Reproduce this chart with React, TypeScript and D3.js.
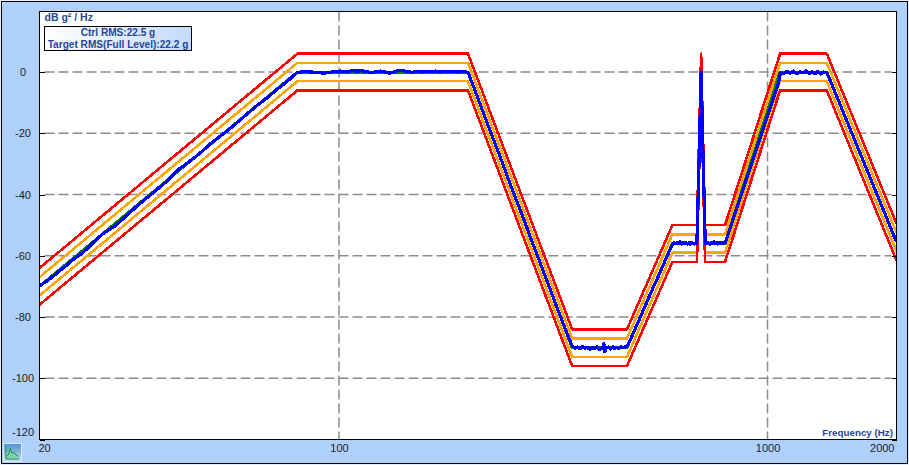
import * as d3 from "d3";
import { useEffect, useRef } from "react";

const yTicks = [0, -20, -40, -60, -80, -100, -120];
const xLabels = [20, 100, 1000, 2000];
const xGrid = [100, 1000];

// breakpoints of the test profile
const profileHz = [20, 80, 200, 350, 470, 600, 684.5, 700, 715, 796, 1070, 1375, 2000];
const targetDb = [-70, 0, 0, -90, -90, -56, -56, 0, -56, -56, 0, 0, -55.5];
const abortHighDb = [-64, 6, 6, -84, -84, -50, -50, 6, -50, -50, 6, 6, -49.5];
const alarmHighDb = [-67, 3, 3, -87, -87, -53, -53, 3, -53, -53, 3, 3, -52.5];
const alarmLowDb = [-73, -3, -3, -93, -93, -59, -59, -3, -59, -59, -3, -3, -58.5];
const abortLowDb = [-76, -6, -6, -96, -96, -62, -62, -6, -62, -62, -6, -6, -61.5];

const controlHz = [
  20, 21, 22, 23, 24, 25, 26, 27, 28, 29, 30, 32, 34, 36, 38, 40, 42, 44, 46, 48, 50, 53, 56, 60, 64, 68, 72, 75, 78,
  80, 83, 86, 89, 92, 95, 98, 101, 104, 107, 110, 113, 116, 119, 122, 125, 128, 131, 134, 137, 140, 144, 148, 152, 156, 160, 164, 168, 172, 176, 180, 185, 190, 195, 200,
  210, 220, 230, 240, 250, 260, 270, 280, 290, 300, 310, 320, 330, 340, 350,
  355, 360, 365, 370, 375, 380, 385, 390, 395, 400, 405, 410, 413, 415, 417, 420, 425, 430, 435, 440, 445, 450, 455, 460, 465, 470,
  480, 500, 520, 540, 560, 580, 600,
  605, 610, 615, 620, 625, 630, 635, 640, 645, 650, 655, 660, 665, 670, 675, 680, 684, 686, 692, 700, 708, 714, 716,
  720, 725, 730, 735, 740, 745, 750, 755, 760, 765, 770, 775, 780, 785, 790, 796,
  800, 820, 850, 880, 910, 940, 970, 1000, 1030, 1060, 1072,
  1090, 1110, 1130, 1150, 1170, 1190, 1210, 1230, 1250, 1270, 1290, 1310, 1330, 1350, 1375,
  1400, 1450, 1500, 1550, 1600, 1650, 1700, 1750, 1800, 1850, 1900, 1950, 2000,
];
const controlDb = [
  -69.8, -67.9, -65.6, -63.4, -61.2, -59.4, -57.4, -55, -53, -51.6, -50.3, -46.8, -43.4, -40.6, -37.9, -35.2, -32, -30, -28, -25.8, -23.5, -20.8, -18.2, -14.6, -11.2, -8.4, -5.4, -3.6, -1.4,
  -0.1, 0.1, 0, -0.1, -0.4, -0.1, 0.2, 0.3, 0.1, 0.4, 0.3, 0.4, 0.1, -0.2, 0.1, 0.3, 0, -0.4, 0, 0.4, 0.5, 0.2, -0.1, 0.2, 0, 0.2, 0.1, 0.3, 0, 0.1, 0.2, 0.1, 0, 0.2, -0.1,
  -7.8, -15.4, -22.5, -29.2, -36, -42.2, -48.1, -54.2, -59.7, -65.2, -70.4, -75.6, -80.4, -85.2, -89.4,
  -90.2, -89.8, -90.4, -89.6, -90.2, -89.9, -90.6, -90, -90.4, -89.8, -90.7, -90.3, -89.9, -88.7, -91.4, -90.2, -89.8, -90.5, -89.7, -90.3, -89.9, -90.4, -89.7, -90.1, -89.8, -89.6,
  -87, -81.4, -75.9, -70.6, -65.8, -60.8, -56.3,
  -55.8, -56.1, -55.6, -56, -55.4, -56.2, -55.7, -56.1, -55.6, -56.2, -55.8, -56.3, -55.7, -56, -56.2, -55.8, -56, -50, -30, 0, -30, -50, -56,
  -56.1, -55.6, -56, -56.3, -55.7, -56, -55.5, -56.1, -55.8, -56.2, -55.6, -56, -55.7, -56.1, -55.6, -55.8,
  -55, -50.6, -44, -37.7, -31.5, -25.6, -19.9, -14.3, -8.9, -3.8, -0.3,
  -0.5, 0.2, -0.4, 0.3, -0.6, 0.1, -0.3, 0.4, -0.5, 0, -0.6, 0.2, -0.7, 0, -0.3,
  -2.7, -7.9, -12.9, -17.8, -22.4, -27, -31.4, -35.7, -39.9, -43.9, -47.9, -51.8, -55.5,
];

export default function App() {
  const svgRef = useRef<SVGSVGElement>(null);
  const width = 909;
  const height = 465;
  const plot = { left: 39.5, right: 896.5, top: 11.5, bottom: 439.5 };

  useEffect(() => {
    const svg = d3.select(svgRef.current);
    svg.selectAll("*").remove();

    const x = d3.scaleLog().domain([20, 2000]).range([plot.left, plot.right]);
    const y = d3.scaleLinear().domain([-120, 20]).range([plot.bottom, 10.75]);

    const defs = svg.append("defs");
    defs.append("clipPath").attr("id", "plot-clip").append("rect")
      .attr("x", plot.left).attr("y", plot.top)
      .attr("width", plot.right - plot.left).attr("height", plot.bottom - plot.top);
    const grad = defs.append("linearGradient").attr("id", "legend-bg");
    grad.append("stop").attr("offset", "0%").attr("stop-color", "#ffffff");
    grad.append("stop").attr("offset", "100%").attr("stop-color", "#c3dafa");
    const iconGrad = defs.append("linearGradient").attr("id", "icon-bg").attr("x2", 0).attr("y2", 1);
    iconGrad.append("stop").attr("offset", "0%").attr("stop-color", "#4f93d0");
    iconGrad.append("stop").attr("offset", "100%").attr("stop-color", "#bfdcf2");

    // window frame
    svg.append("rect").attr("width", width).attr("height", height).attr("fill", "#e6f0fd");
    svg.append("rect").attr("x", 1.5).attr("y", 1.5).attr("width", 906).attr("height", 462)
      .attr("fill", "#aed0fb").attr("stroke", "#000");
    svg.append("rect").attr("x", plot.left).attr("y", plot.top)
      .attr("width", plot.right - plot.left).attr("height", plot.bottom - plot.top)
      .attr("fill", "#fff");

    // grid
    const grid = svg.append("g").attr("stroke", "#8c8c8c").attr("stroke-width", 1.5)
      .attr("stroke-dasharray", "10 4");
    grid.selectAll("line.h").data(yTicks.slice(0, -1)).enter().append("line")
      .attr("class", "h")
      .attr("x1", plot.left + 5).attr("x2", plot.right - 5)
      .attr("y1", (d) => y(d)).attr("y2", (d) => y(d));
    grid.selectAll("line.v").data(xGrid).enter().append("line")
      .attr("class", "v")
      .attr("x1", (d) => x(d)).attr("x2", (d) => x(d))
      .attr("y1", plot.top).attr("y2", plot.bottom);

    // curves
    const pairLine = d3.line<[number, number]>().x((d) => x(d[0])).y((d) => y(d[1]));
    const series: [number[], number[], string, number][] = [
      [profileHz, alarmHighDb, "#ffa500", 2.6],
      [profileHz, alarmLowDb, "#ffa500", 2.6],
      [profileHz, targetDb, "#008000", 3],
      [profileHz, abortHighDb, "#ff0000", 2.6],
      [profileHz, abortLowDb, "#ff0000", 2.6],
      [controlHz, controlDb, "#0000ff", 3.2],
    ];
    const curves = svg.append("g").attr("clip-path", "url(#plot-clip)");
    series.forEach(([hz, db, color, w]) => {
      curves.append("path")
        .attr("d", pairLine(d3.zip(hz, db) as [number, number][]))
        .attr("fill", "none").attr("stroke", color).attr("stroke-width", w)
        .attr("stroke-linejoin", "round")
        .attr("shape-rendering", "crispEdges");
    });

    svg.append("rect").attr("x", plot.left).attr("y", plot.top)
      .attr("width", plot.right - plot.left).attr("height", plot.bottom - plot.top)
      .attr("fill", "none").attr("stroke", "#000").attr("shape-rendering", "crispEdges");

    // axes
    const fontFamily = "Liberation Sans, Arial, sans-serif";
    const gy = svg.append("g").attr("transform", `translate(${plot.left},0)`)
      .call(d3.axisLeft(y).tickValues(yTicks).tickSize(-5).tickPadding(0).tickFormat((d) => String(d)));
    gy.select(".domain").remove();
    gy.selectAll("line").attr("stroke", "#000").attr("shape-rendering", "crispEdges");
    gy.selectAll<SVGTextElement, number>("text")
      .attr("x", -16.5).attr("text-anchor", "middle")
      .attr("y", (d) => (d === -120 ? -8 : 0))
      .attr("font-family", fontFamily).attr("font-size", 11).attr("fill", "#222");

    const gr = svg.append("g").attr("transform", `translate(${plot.right},0)`)
      .call(d3.axisRight(y).tickValues(yTicks).tickSize(-5).tickFormat(() => ""));
    gr.select(".domain").remove();
    gr.selectAll("line").attr("stroke", "#000").attr("shape-rendering", "crispEdges");

    const gx = svg.append("g").attr("transform", `translate(0,${plot.bottom})`)
      .call(d3.axisBottom(x).tickValues(xLabels).tickSize(0).tickPadding(5).tickFormat((d) => String(d)));
    gx.select(".domain").remove();
    gx.selectAll<SVGTextElement, number>("text")
      .attr("font-family", fontFamily).attr("font-size", 11).attr("fill", "#222")
      .attr("text-anchor", (d) => (d === 2000 ? "end" : d === 20 ? "start" : "middle"))
      .attr("dx", (d) => (d === 2000 ? -2.5 : d === 20 ? -1.5 : 0));

    // titles
    const titleColor = "#24479a";
    svg.append("text").attr("x", 44.5).attr("y", 20.5).attr("fill", titleColor)
      .attr("font-family", fontFamily).attr("font-size", 10.5).attr("font-weight", "bold")
      .text("dB g² / Hz");
    svg.append("text").attr("x", 893).attr("y", 436).attr("text-anchor", "end").attr("fill", titleColor)
      .attr("font-family", fontFamily).attr("font-size", 9.8).attr("font-weight", "bold")
      .text("Frequency (Hz)");

    // RMS box
    svg.append("rect").attr("x", 44.5).attr("y", 26.5).attr("width", 147).attr("height", 24)
      .attr("fill", "url(#legend-bg)").attr("stroke", "#000").attr("shape-rendering", "crispEdges");
    ["Ctrl RMS:22.5 g", "Target RMS(Full Level):22.2 g"].forEach((t, i) => {
      svg.append("text").attr("x", 118).attr("y", 35.5 + i * 12.5).attr("text-anchor", "middle")
        .attr("fill", titleColor).attr("font-family", fontFamily)
        .attr("font-size", 10.1).attr("font-weight", "bold").text(t);
    });

    // toolbar button
    const icon = svg.append("g").attr("transform", "translate(3,443)");
    icon.append("rect").attr("x", 0.5).attr("y", 0.5).attr("width", 18).attr("height", 18)
      .attr("fill", "url(#icon-bg)").attr("stroke", "#dfe9f5");
    icon.append("path").attr("d", "M3 14L5 12L7 5L9 10L11 9L13 12L15 13L15 15L3 15Z").attr("fill", "#7fd0b0");
    icon.append("path").attr("d", "M3 3V16H16").attr("fill", "none").attr("stroke", "#1f9a3c");
    icon.append("path").attr("d", "M4 13L6 11L7 5L9 10L11 9L13 12L15 13").attr("fill", "none").attr("stroke", "#1f9a3c");
  }, []);

  return (
    <div>
      <style>{`body{margin:0}`}</style>
      <svg ref={svgRef} width={width} height={height} style={{ display: "block" }} />
    </div>
  );
}
